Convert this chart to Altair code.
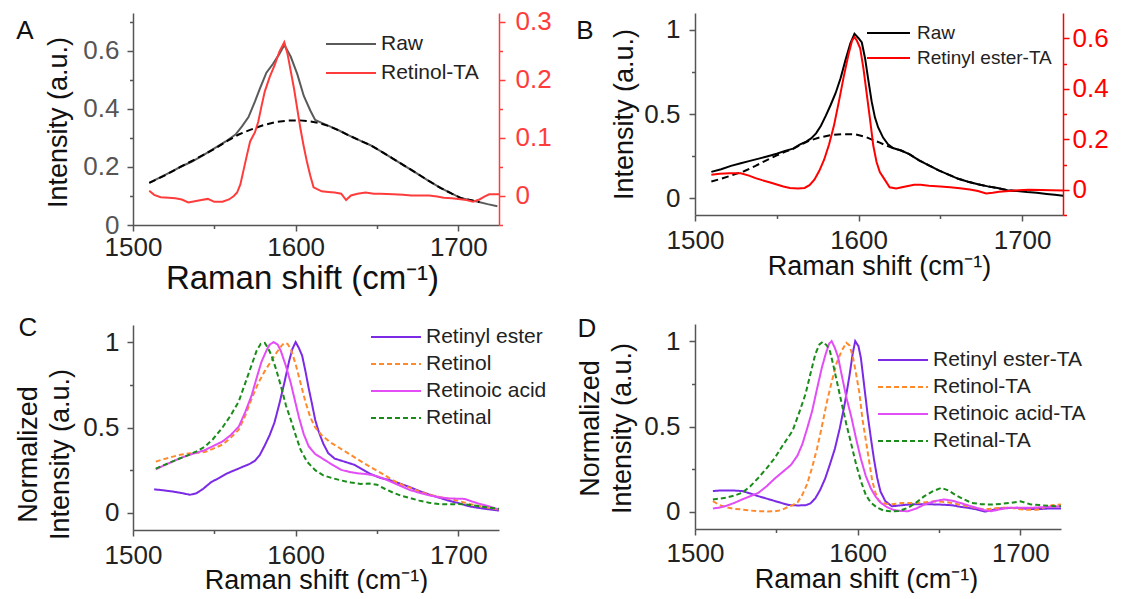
import altair as alt
import pandas as pd

FONT = "Liberation Sans"
XDOM = [1500, 1725]
X_TICKS = [1500, 1550, 1600, 1650, 1700]
X_TITLE = "Raman shift (cm\u207b\u00b9)"
AX = "#555555"

# ---------------- Panel A ----------------
a_raw_x = [1510, 1517, 1524, 1529, 1536, 1543, 1550, 1557, 1563, 1567,
           1571, 1575, 1578, 1582, 1586, 1590, 1593, 1597, 1601, 1605,
           1609, 1612, 1616, 1621, 1627, 1633, 1640, 1646, 1653, 1660,
           1667, 1674, 1681, 1689, 1696, 1702, 1707, 1712, 1718, 1724]
a_raw_y = [0.145, 0.165, 0.185, 0.200, 0.218, 0.240, 0.264, 0.288, 0.312, 0.340,
           0.372, 0.426, 0.470, 0.525, 0.555, 0.590, 0.621, 0.580, 0.520, 0.445,
           0.395, 0.362, 0.352, 0.340, 0.325, 0.308, 0.290, 0.275, 0.252, 0.228,
           0.204, 0.180, 0.155, 0.128, 0.108, 0.092, 0.086, 0.080, 0.072, 0.065]
a_base_x = [1510, 1520, 1530, 1540, 1550, 1558, 1565, 1572, 1580, 1588,
            1595, 1602, 1608, 1614, 1621, 1627, 1633, 1640, 1646, 1653,
            1660, 1667, 1674, 1681, 1689, 1696, 1702, 1708, 1713]
a_base_y = [0.145, 0.172, 0.203, 0.232, 0.262, 0.290, 0.312, 0.328, 0.344, 0.355,
            0.360, 0.361, 0.358, 0.352, 0.340, 0.325, 0.308, 0.290, 0.275, 0.252,
            0.228, 0.204, 0.180, 0.155, 0.128, 0.108, 0.092, 0.085, 0.079]
a_ta_x = [1510, 1513, 1517, 1522, 1526, 1530, 1534, 1538, 1542, 1546,
          1550, 1555, 1559, 1562, 1564, 1566, 1568, 1570, 1572, 1575,
          1577, 1579, 1581, 1584, 1587, 1590, 1593, 1595, 1597, 1599,
          1601, 1603, 1605, 1607, 1609, 1611, 1616, 1620, 1624, 1628,
          1631, 1634, 1638, 1643, 1648, 1652, 1660, 1666, 1671, 1677,
          1682, 1687, 1691, 1696, 1700, 1705, 1709, 1713, 1716, 1719,
          1725]
a_ta_y = [0.009, 0.002, -0.002, -0.003, -0.004, -0.006, -0.011, -0.009, -0.007, -0.005,
          -0.010, -0.010, -0.006, 0.000, 0.006, 0.020, 0.045, 0.070, 0.094, 0.110,
          0.128, 0.155, 0.180, 0.205, 0.225, 0.249, 0.265, 0.245, 0.215, 0.185,
          0.150, 0.115, 0.085, 0.058, 0.035, 0.015, 0.008, 0.007, 0.006, 0.004,
          -0.007, 0.001, 0.004, 0.006, 0.004, 0.004, 0.003, 0.002, 0.001, 0.001,
          0.001, -0.001, -0.003, -0.004, -0.005, -0.007, -0.010, -0.006, -0.001, 0.003,
          0.003]

# ---------------- Panel B ----------------
b_raw_x = [1510, 1516, 1522, 1528, 1533, 1539, 1544, 1550, 1555, 1560,
           1564, 1568, 1571, 1574, 1577, 1580, 1583, 1586, 1589, 1592,
           1595, 1597.5, 1600, 1602, 1604, 1606, 1608, 1610, 1612, 1615,
           1618, 1621, 1626, 1631, 1637, 1643, 1649, 1655, 1661, 1667,
           1673, 1679, 1685, 1691, 1697, 1703, 1709, 1715, 1720, 1725]
b_raw_y = [0.156, 0.172, 0.192, 0.207, 0.220, 0.235, 0.248, 0.264, 0.281, 0.294,
           0.318, 0.336, 0.355, 0.385, 0.430, 0.490, 0.555, 0.625, 0.712, 0.820,
           0.920, 0.976, 0.950, 0.925, 0.830, 0.700, 0.575, 0.480, 0.420, 0.360,
           0.320, 0.298, 0.283, 0.262, 0.225, 0.195, 0.165, 0.140, 0.115, 0.098,
           0.083, 0.070, 0.060, 0.047, 0.042, 0.036, 0.032, 0.025, 0.020, 0.014]
b_base_x = [1510, 1516, 1522, 1530, 1537, 1543, 1550, 1555, 1560, 1565,
            1570, 1576, 1583, 1590, 1598, 1604, 1609, 1613, 1617, 1621,
            1626, 1631, 1637, 1643, 1649, 1655, 1661, 1667, 1673, 1679,
            1685, 1691, 1696]
b_base_y = [0.099, 0.115, 0.134, 0.160, 0.192, 0.222, 0.254, 0.275, 0.293, 0.320,
            0.342, 0.360, 0.375, 0.380, 0.379, 0.365, 0.345, 0.330, 0.312, 0.298,
            0.283, 0.262, 0.225, 0.195, 0.165, 0.140, 0.115, 0.098, 0.083, 0.070,
            0.060, 0.047, 0.043]
b_ta_x = [1510, 1515, 1521, 1528, 1533, 1537, 1541, 1546, 1550, 1554,
          1558, 1563, 1567, 1570, 1573, 1576, 1579, 1582, 1585, 1588,
          1591, 1594, 1596, 1597.5, 1599, 1601, 1603, 1605, 1607, 1609,
          1611, 1613, 1616, 1619, 1623, 1628, 1634, 1638, 1643, 1650,
          1656, 1662, 1668, 1673, 1678, 1682, 1686, 1692, 1698, 1704,
          1712, 1718, 1725]
b_ta_y = [0.059, 0.063, 0.065, 0.065, 0.056, 0.046, 0.038, 0.029, 0.021, 0.013,
          0.007, 0.005, 0.007, 0.018, 0.040, 0.075, 0.120, 0.180, 0.255, 0.350,
          0.450, 0.540, 0.590, 0.605, 0.590, 0.560, 0.480, 0.380, 0.280, 0.175,
          0.110, 0.070, 0.040, 0.010, 0.005, 0.012, 0.020, 0.020, 0.016, 0.013,
          0.010, 0.006, 0.001, -0.005, -0.015, -0.012, -0.008, -0.005, -0.002, 0.000,
          -0.001, -0.002, -0.003]

# ---------------- Panel C ----------------
c_names = ["Retinyl ester", "Retinol", "Retinoic acid", "Retinal"]
c_ester_x = [1513, 1519, 1524, 1530, 1535, 1539, 1543, 1548, 1553, 1558,
             1563, 1568, 1572, 1575, 1578, 1581, 1584, 1587, 1590, 1593,
             1596, 1598, 1600, 1602, 1604, 1606, 1608, 1610, 1612, 1614,
             1617, 1620, 1624, 1630, 1636, 1641, 1646, 1652, 1658, 1664,
             1670, 1676, 1682, 1688, 1694, 1700, 1706, 1712, 1718, 1725]
c_ester_y = [0.138, 0.132, 0.126, 0.116, 0.106, 0.115, 0.140, 0.180, 0.205, 0.232,
             0.252, 0.272, 0.288, 0.305, 0.340, 0.395, 0.455, 0.530, 0.640, 0.760,
             0.890, 0.960, 1.000, 0.965, 0.920, 0.830, 0.730, 0.640, 0.545, 0.480,
             0.405, 0.350, 0.318, 0.300, 0.282, 0.255, 0.228, 0.205, 0.192, 0.172,
             0.152, 0.128, 0.108, 0.090, 0.072, 0.058, 0.040, 0.030, 0.022, 0.014]
c_retinol_x = [1514, 1519, 1524, 1529, 1534, 1539, 1544, 1549, 1555, 1560,
               1565, 1569, 1573, 1577, 1581, 1585, 1588, 1591, 1593, 1595,
               1597, 1600, 1603, 1606, 1609, 1612, 1616, 1621, 1627, 1633,
               1638, 1643, 1648, 1654, 1660, 1666, 1671, 1677, 1683, 1689,
               1695, 1701, 1707, 1713, 1719, 1725]
c_retinol_y = [0.300, 0.315, 0.328, 0.340, 0.348, 0.352, 0.356, 0.375, 0.400, 0.440,
               0.487, 0.570, 0.670, 0.760, 0.830, 0.890, 0.935, 0.975, 0.995, 0.990,
               0.960, 0.870, 0.760, 0.650, 0.560, 0.500, 0.455, 0.415, 0.380, 0.345,
               0.315, 0.285, 0.258, 0.225, 0.190, 0.162, 0.145, 0.122, 0.105, 0.092,
               0.082, 0.068, 0.052, 0.040, 0.030, 0.020]
c_acid_x = [1514, 1519, 1524, 1529, 1534, 1539, 1544, 1549, 1555, 1560,
            1565, 1569, 1573, 1576, 1579, 1582, 1584, 1586.5, 1589, 1591,
            1594, 1597, 1600, 1602, 1605, 1608, 1612, 1617, 1622, 1628,
            1633, 1638, 1643, 1648, 1653, 1658, 1664, 1670, 1676, 1682,
            1688, 1694, 1700, 1704, 1708, 1713, 1719, 1725]
c_acid_y = [0.255, 0.278, 0.299, 0.320, 0.338, 0.352, 0.367, 0.390, 0.418, 0.455,
            0.505, 0.590, 0.690, 0.790, 0.885, 0.950, 0.985, 1.000, 0.985, 0.945,
            0.860, 0.760, 0.640, 0.560, 0.460, 0.390, 0.345, 0.315, 0.285, 0.252,
            0.240, 0.232, 0.228, 0.220, 0.205, 0.185, 0.160, 0.135, 0.118, 0.103,
            0.092, 0.085, 0.083, 0.082, 0.068, 0.053, 0.038, 0.020]
c_retinal_x = [1514, 1519, 1524, 1529, 1534, 1539, 1544, 1549, 1555, 1560,
               1565, 1569, 1573, 1576, 1578.5, 1581, 1583, 1585, 1588, 1591,
               1594, 1597, 1600, 1603, 1607, 1612, 1617, 1622, 1628, 1634,
               1640, 1645, 1650, 1655, 1660, 1665, 1670, 1676, 1682, 1688,
               1694, 1700, 1706, 1712, 1718, 1725]
c_retinal_y = [0.259, 0.280, 0.300, 0.320, 0.338, 0.360, 0.387, 0.430, 0.500, 0.570,
               0.652, 0.760, 0.868, 0.950, 0.990, 0.995, 0.965, 0.925, 0.840, 0.740,
               0.630, 0.545, 0.455, 0.370, 0.300, 0.250, 0.220, 0.205, 0.190, 0.178,
               0.170, 0.172, 0.165, 0.140, 0.118, 0.100, 0.088, 0.072, 0.060, 0.052,
               0.050, 0.052, 0.048, 0.040, 0.032, 0.024]

# ---------------- Panel D ----------------
d_names = ["Retinyl ester-TA", "Retinol-TA", "Retinoic acid-TA", "Retinal-TA"]
d_ester_x = [1511, 1515, 1519, 1524, 1529, 1534, 1539, 1544, 1549, 1554,
             1558, 1563, 1568, 1571, 1574, 1577, 1580, 1583, 1586, 1589,
             1592, 1595, 1597, 1598.5, 1600.5, 1602, 1604, 1606, 1608, 1610,
             1612, 1614, 1617, 1621, 1626, 1633, 1640, 1647, 1653, 1658,
             1663, 1668, 1673, 1678, 1682, 1686, 1692, 1698, 1704, 1710,
             1718, 1725]
d_ester_y = [0.122, 0.125, 0.126, 0.125, 0.122, 0.108, 0.092, 0.078, 0.064, 0.050,
             0.040, 0.038, 0.039, 0.050, 0.080, 0.130, 0.195, 0.280, 0.370, 0.490,
             0.630, 0.800, 0.930, 1.000, 0.970, 0.900, 0.740, 0.580, 0.440, 0.310,
             0.200, 0.120, 0.063, 0.033, 0.038, 0.045, 0.045, 0.044, 0.042, 0.039,
             0.030, 0.024, 0.015, 0.002, 0.008, 0.020, 0.022, 0.024, 0.018, 0.016,
             0.020, 0.020]
d_retinol_x = [1511, 1515, 1519, 1524, 1529, 1534, 1539, 1544, 1549, 1553,
               1556, 1560, 1563, 1566, 1569, 1572, 1575, 1578, 1581, 1584,
               1587, 1590, 1593, 1595, 1597, 1599, 1601, 1603, 1605, 1607,
               1609, 1611, 1613, 1617, 1621, 1627, 1633, 1640, 1647, 1652,
               1658, 1663, 1668, 1673, 1678, 1683, 1688, 1694, 1700, 1704,
               1711, 1716, 1720, 1725]
d_retinol_y = [0.063, 0.040, 0.028, 0.018, 0.014, 0.008, 0.004, 0.003, 0.004, 0.010,
               0.024, 0.040, 0.055, 0.100, 0.165, 0.260, 0.370, 0.500, 0.640, 0.760,
               0.870, 0.940, 0.990, 0.975, 0.910, 0.810, 0.700, 0.540, 0.420, 0.300,
               0.180, 0.110, 0.065, 0.048, 0.045, 0.052, 0.052, 0.055, 0.062, 0.060,
               0.052, 0.042, 0.033, 0.022, 0.014, 0.020, 0.024, 0.024, 0.016, 0.012,
               0.014, 0.030, 0.040, 0.043]
d_acid_x = [1511, 1515, 1519, 1524, 1529, 1534, 1539, 1544, 1549, 1554,
            1559, 1563, 1566, 1569, 1572, 1575, 1578, 1580.5, 1582.5, 1584,
            1586, 1588, 1590, 1593, 1596, 1599, 1602, 1605, 1608, 1611,
            1614, 1618, 1622, 1626, 1631, 1636, 1641, 1647, 1653, 1658,
            1663, 1668, 1673, 1678, 1682, 1687, 1692, 1698, 1706, 1714,
            1720, 1725]
d_acid_y = [0.020, 0.025, 0.035, 0.052, 0.073, 0.092, 0.112, 0.150, 0.195, 0.235,
            0.275, 0.330, 0.397, 0.490, 0.590, 0.720, 0.845, 0.930, 0.985, 1.000,
            0.960, 0.905, 0.810, 0.672, 0.560, 0.430, 0.310, 0.210, 0.140, 0.090,
            0.055, 0.028, 0.012, 0.006, 0.004, 0.020, 0.043, 0.062, 0.073, 0.066,
            0.053, 0.038, 0.024, 0.010, 0.004, 0.014, 0.024, 0.024, 0.024, 0.028,
            0.030, 0.033]
d_retinal_x = [1511, 1515, 1519, 1524, 1529, 1534, 1539, 1544, 1549, 1554,
               1560, 1564, 1568, 1571, 1574, 1576.5, 1578.5, 1581, 1583, 1585,
               1588, 1591, 1593, 1596, 1599, 1602, 1605, 1608, 1612, 1616,
               1620, 1625, 1631, 1636, 1641, 1646, 1651.5, 1656, 1660, 1665,
               1670, 1676, 1682, 1688, 1694, 1700, 1706, 1712, 1718, 1725]
d_retinal_y = [0.073, 0.078, 0.083, 0.095, 0.112, 0.150, 0.200, 0.255, 0.315, 0.390,
               0.475, 0.580, 0.692, 0.810, 0.925, 0.980, 0.995, 0.975, 0.940, 0.860,
               0.730, 0.600, 0.515, 0.400, 0.280, 0.180, 0.100, 0.055, 0.025, 0.008,
               0.004, 0.005, 0.024, 0.055, 0.092, 0.120, 0.141, 0.125, 0.100, 0.075,
               0.053, 0.045, 0.043, 0.047, 0.053, 0.062, 0.045, 0.040, 0.035, 0.033]

SPEC_COLORS = ["#7b2ae6", "#ff8a2b", "#e34df5", "#198c19"]
SPEC_DASHES = [[1, 0], [5, 3], [1, 0], [5, 3]]


def frame(xs, ys, name):
    n = min(len(xs), len(ys))
    return pd.DataFrame({"x": xs[:n], "y": ys[:n], "series": [name] * n})


def minor_dash(test):
    return {"condition": {"test": test, "value": [3.5, 60]}, "value": []}


def x_enc(label_pad, title_size, title_x, title_y):
    test = "datum.value % 100 != 0"
    return alt.X(
        "x:Q",
        scale=alt.Scale(domain=XDOM, nice=False, zero=False),
        axis=alt.Axis(
            values=X_TICKS, grid=False, labelFlush=False, labelOverlap=False,
            labelExpr="datum.value % 100 == 0 ? format(datum.value, 'd') : ''",
            tickDash=minor_dash(test), tickSize=6, tickWidth=1.5,
            domainWidth=1.5, domainColor=AX, tickColor=AX,
            labelFont=FONT, labelFontSize=26, labelColor="#222222", labelPadding=label_pad,
            title=X_TITLE, titleFont=FONT, titleFontSize=title_size, titleFontWeight="normal",
            titleColor="#111111", titleX=title_x, titleY=title_y, titleAlign="center",
            titleBaseline="alphabetic", titleAngle=0,
        ),
    )


def y_enc(domain, values, mult, orient, color, label_color, label_pad,
          title=None, title_x=0, title_y=0, line_height=32):
    test = f"abs(datum.value*{mult} - round(datum.value*{mult})) > 0.001"
    kw = dict(
        values=values, orient=orient, grid=False, labelFlush=False, labelOverlap=False,
        labelExpr=f"({test}) ? '' : format(datum.value, '~g')",
        tickDash=minor_dash(test), tickSize=6, tickWidth=1.5,
        domainWidth=1.5, domainColor=color, tickColor=color,
        labelFont=FONT, labelFontSize=26, labelColor=label_color, labelPadding=label_pad,
    )
    if title is None:
        kw["title"] = None
    else:
        kw.update(title=title, titleFont=FONT, titleFontSize=27, titleFontWeight="normal",
                  titleColor="#111111", titleX=title_x, titleY=title_y, titleAngle=270,
                  titleAlign="center", titleBaseline="alphabetic", titleLineHeight=line_height)
    return alt.Y("y:Q", scale=alt.Scale(domain=domain, nice=False, zero=False),
                 axis=alt.Axis(**kw))


def legend(x, y, row_pad, sym_len, offset, font_size):
    return alt.Legend(
        title=None, orient="none", legendX=x, legendY=y, padding=0,
        symbolType="stroke", symbolSize=sym_len * sym_len, symbolStrokeWidth=2,
        clipHeight=20, rowPadding=row_pad, labelOffset=offset, labelFont=FONT,
        labelFontSize=font_size, labelColor="#222222", labelLimit=400, symbolOffset=0,
    )


def letter(t, x, y):
    return alt.Chart(pd.DataFrame({"t": [t]})).mark_text(
        font=FONT, fontSize=26, align="center", baseline="alphabetic", color="#111111"
    ).encode(text="t:N", x=alt.value(x), y=alt.value(y))


# ---------- Panel A ----------
WA, HA = 366, 212
xA = x_enc(3, 33, 169, 63)
colA = alt.Color("series:N", scale=alt.Scale(domain=["Raw", "Retinol-TA"], range=["#5a5a5a", "#ff3c3c"]),
                 legend=legend(192, 21, 8, 50, 4, 21))
yA_l = y_enc([0, 0.731], [0, 0.1, 0.2, 0.3, 0.4, 0.5, 0.6, 0.7], 5, "left", AX, "#555555", 8,
             title="Intensity (a.u.)", title_x=-67, title_y=109)
yA_r = y_enc([-0.05, 0.3155], [-0.05, 0, 0.05, 0.1, 0.15, 0.2, 0.25, 0.3], 10, "right", "#ff3c3c", "#ff3c3c", 10)
a_left = alt.layer(
    alt.Chart(frame(a_raw_x, a_raw_y, "Raw")).mark_line(strokeWidth=2).encode(x=xA, y=yA_l, color=colA),
    alt.Chart(frame(a_base_x, a_base_y, "Baseline")).mark_line(strokeWidth=2, color="black", strokeDash=[7, 4]).encode(x=xA, y=yA_l),
    letter("A", -108, 26),
)
a_right = alt.Chart(frame(a_ta_x, a_ta_y, "Retinol-TA")).mark_line(strokeWidth=2).encode(x=xA, y=yA_r, color=colA)
panelA = alt.layer(a_left, a_right).resolve_scale(y="independent").properties(width=WA, height=HA)

# ---------- Panel B ----------
WB, HB = 368, 202
xB = x_enc(6, 27, WB / 2, 59)
colB = alt.Color("series:N", scale=alt.Scale(domain=["Raw", "Retinyl ester-TA"], range=["#000000", "#ff0000"]),
                 legend=legend(171, 10, 5, 43, 6, 19))
yB_l = y_enc([-0.1, 1.1], [0, 0.25, 0.5, 0.75, 1.0], 2, "left", AX, "#222222", 9,
             title="Intensity (a.u.)", title_x=-63, title_y=HB / 2)
yB_r = y_enc([-0.1, 0.7], [-0.1, 0, 0.1, 0.2, 0.3, 0.4, 0.5, 0.6], 5, "right", "#ff0000", "#ff0000", 3)
b_left = alt.layer(
    alt.Chart(frame(b_raw_x, b_raw_y, "Raw")).mark_line(strokeWidth=2).encode(x=xB, y=yB_l, color=colB),
    alt.Chart(frame(b_base_x, b_base_y, "Baseline")).mark_line(strokeWidth=2, color="black", strokeDash=[7, 4]).encode(x=xB, y=yB_l),
    letter("B", -110, 26),
)
b_right = alt.Chart(frame(b_ta_x, b_ta_y, "Retinyl ester-TA")).mark_line(strokeWidth=2).encode(x=xB, y=yB_r, color=colB)
panelB = alt.layer(b_left, b_right).resolve_scale(y="independent").properties(width=WB, height=HB)


# ---------- Panels C and D ----------
def spectra_panel(names, series, lg, letter_t, letter_xy, x_title_x, y_title_y, label_pad_x, label_pad_y, width, height):
    df = pd.concat([frame(xs, ys, nm) for nm, (xs, ys) in zip(names, series)], ignore_index=True)
    col = alt.Color("series:N", scale=alt.Scale(domain=names, range=SPEC_COLORS), legend=lg)
    dash = alt.StrokeDash("series:N", scale=alt.Scale(domain=names, range=SPEC_DASHES), legend=lg)
    xe = x_enc(label_pad_x, 27, x_title_x, 58)
    ye = y_enc([-0.1, 1.1], [0, 0.25, 0.5, 0.75, 1.0], 2, "left", AX, "#222222", label_pad_y,
               title=["Normalized", "Intensity (a.u.)"], title_x=-97, title_y=y_title_y, line_height=32)
    lines = alt.Chart(df).mark_line(strokeWidth=2).encode(x=xe, y=ye, color=col, strokeDash=dash)
    return alt.layer(lines, letter(letter_t, *letter_xy)).properties(width=width, height=height)


panelC = spectra_panel(
    c_names,
    [(c_ester_x, c_ester_y), (c_retinol_x, c_retinol_y), (c_acid_x, c_acid_y), (c_retinal_x, c_retinal_y)],
    legend(237, 2, 6, 50, 4, 21), "C", (-105, 11), 183, 129, 6, 8, 366, 205,
)
panelD = spectra_panel(
    d_names,
    [(d_ester_x, d_ester_y), (d_retinol_x, d_retinol_y), (d_acid_x, d_acid_y), (d_retinal_x, d_retinal_y)],
    legend(182, 26, 6, 50, 4, 21), "D", (-108, 13), 171, 104, 5, 9, 366, 205,
)

col1 = alt.vconcat(panelA, panelC, spacing=20).resolve_scale(color="independent", strokeDash="independent")
col2 = alt.vconcat(panelB, panelD, spacing=37).resolve_scale(color="independent", strokeDash="independent")

chart = (
    alt.hconcat(col1, col2, spacing=24)
    .resolve_scale(color="independent", strokeDash="independent")
    .properties(padding={"left": 6, "top": 0, "right": 4, "bottom": 0}, background="white")
    .configure_view(stroke=None)
)

chart.save("out.html", embed_options={"renderer": "svg", "actions": False})
